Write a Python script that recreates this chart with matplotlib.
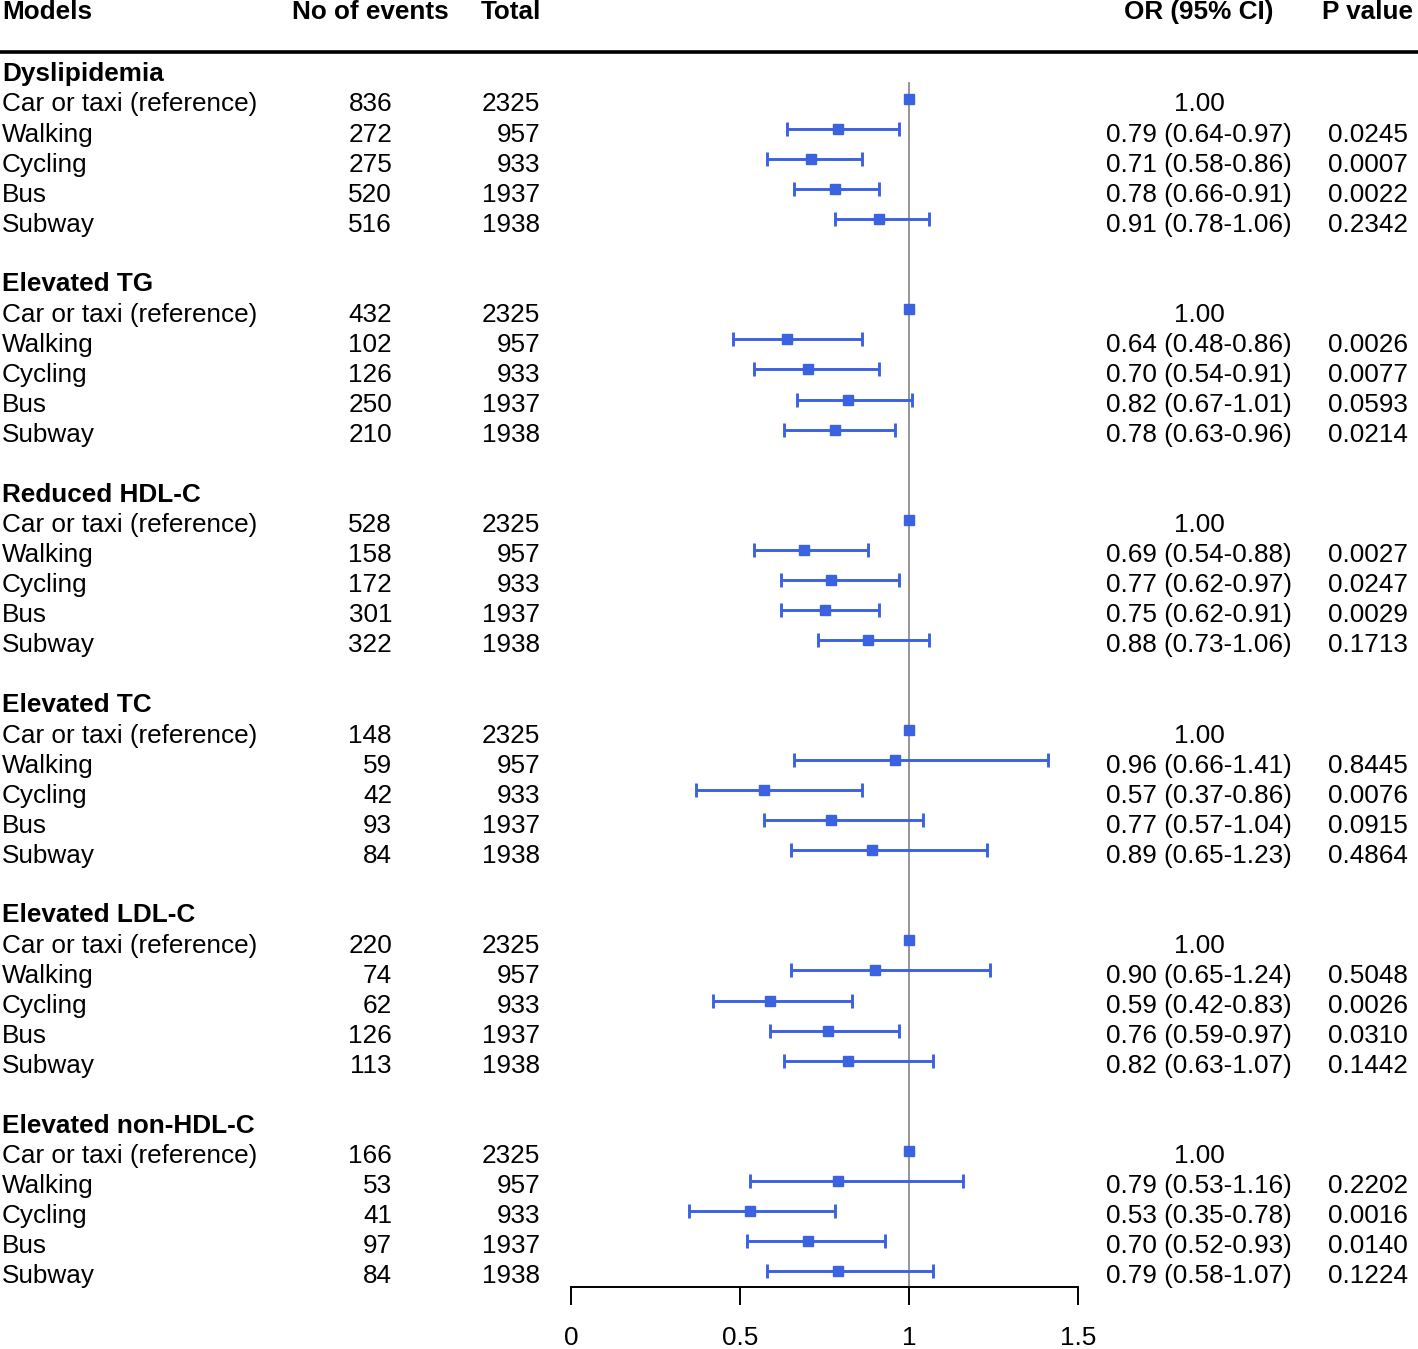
import matplotlib
matplotlib.use("Agg")
import matplotlib.pyplot as plt
from matplotlib.transforms import blended_transform_factory
from matplotlib.lines import Line2D

plt.rcParams['font.family'] = ['Liberation Sans', 'DejaVu Sans']

# data
outcomes = ["Dyslipidemia", "Elevated TG", "Reduced HDL-C",
            "Elevated TC", "Elevated LDL-C", "Elevated non-HDL-C"]
modes = ["Car or taxi (reference)", "Walking", "Cycling", "Bus", "Subway"]
totals = [2325, 957, 933, 1937, 1938]

events = [
    [836, 272, 275, 520, 516],
    [432, 102, 126, 250, 210],
    [528, 158, 172, 301, 322],
    [148, 59, 42, 93, 84],
    [220, 74, 62, 126, 113],
    [166, 53, 41, 97, 84],
]
odds = [
    [1.00, 0.79, 0.71, 0.78, 0.91],
    [1.00, 0.64, 0.70, 0.82, 0.78],
    [1.00, 0.69, 0.77, 0.75, 0.88],
    [1.00, 0.96, 0.57, 0.77, 0.89],
    [1.00, 0.90, 0.59, 0.76, 0.82],
    [1.00, 0.79, 0.53, 0.70, 0.79],
]
ci_low = [
    [None, 0.64, 0.58, 0.66, 0.78],
    [None, 0.48, 0.54, 0.67, 0.63],
    [None, 0.54, 0.62, 0.62, 0.73],
    [None, 0.66, 0.37, 0.57, 0.65],
    [None, 0.65, 0.42, 0.59, 0.63],
    [None, 0.53, 0.35, 0.52, 0.58],
]
ci_high = [
    [None, 0.97, 0.86, 0.91, 1.06],
    [None, 0.86, 0.91, 1.01, 0.96],
    [None, 0.88, 0.97, 0.91, 1.06],
    [None, 1.41, 0.86, 1.04, 1.23],
    [None, 1.24, 0.83, 0.97, 1.07],
    [None, 1.16, 0.78, 0.93, 1.07],
]
pvals = [
    ["", "0.0245", "0.0007", "0.0022", "0.2342"],
    ["", "0.0026", "0.0077", "0.0593", "0.0214"],
    ["", "0.0027", "0.0247", "0.0029", "0.1713"],
    ["", "0.8445", "0.0076", "0.0915", "0.4864"],
    ["", "0.5048", "0.0026", "0.0310", "0.1442"],
    ["", "0.2202", "0.0016", "0.0140", "0.1224"],
]
xticks = [0, 0.5, 1, 1.5]

W, H = 1418, 1349
fig = plt.figure(figsize=(W / 100, H / 100), dpi=100)

# row units: group header at row 0, one row = ~30 px
row_px = 30.05
y0_px = 72
axis_px = 1287
ax = fig.add_axes([571 / W, (H - axis_px) / H, (1078 - 571) / W, axis_px / H])
ax.set_xlim(0, 1.5)
ax.set_ylim((axis_px - y0_px) / row_px, -y0_px / row_px)

blue = '#3b62e0'
fs = 18.8
tr = blended_transform_factory(fig.transFigure, ax.transData)

# header
hy = (12 - y0_px) / row_px
ax.text(2 / W, hy, "Models", transform=tr, fontsize=fs, fontweight='bold', ha='left', va='center')
ax.text(370 / W, hy, "No of events", transform=tr, fontsize=fs, fontweight='bold', ha='center', va='center')
ax.text(511 / W, hy, "Total", transform=tr, fontsize=fs, fontweight='bold', ha='center', va='center')
ax.text(1199 / W, hy, "OR (95% CI)", transform=tr, fontsize=fs, fontweight='bold', ha='center', va='center')
ax.text(1413 / W, hy, "P value", transform=tr, fontsize=fs, fontweight='bold', ha='right', va='center')
fig.add_artist(Line2D([0, 1], [(52 - y0_px) / row_px] * 2, transform=tr, color='black', lw=2.6))

# reference line at OR = 1
ax.axvline(1, ymin=0, ymax=1 - (83 / axis_px), color='#8c8c8c', lw=1.3, zorder=1)

for g, name in enumerate(outcomes):
    base = 7 * g
    ax.text(2 / W, base + 0.06, name, transform=tr, fontsize=fs, fontweight='bold', ha='left', va='center')
    for i, mode in enumerate(modes):
        r = base + i + 1
        ty = r + 0.08
        ax.text(2 / W, ty, mode, transform=tr, fontsize=fs, ha='left', va='center')
        ax.text(392 / W, ty, str(events[g][i]), transform=tr, fontsize=fs, ha='right', va='center')
        ax.text(540 / W, ty, str(totals[i]), transform=tr, fontsize=fs, ha='right', va='center')
        if ci_low[g][i] is None:
            or_txt = f"{odds[g][i]:.2f}"
            ax.plot(odds[g][i], r - 0.1, marker='s', ms=6.5, color=blue, zorder=3)
        else:
            or_txt = f"{odds[g][i]:.2f} ({ci_low[g][i]:.2f}-{ci_high[g][i]:.2f})"
            ax.errorbar(odds[g][i], r - 0.1,
                        xerr=[[odds[g][i] - ci_low[g][i]], [ci_high[g][i] - odds[g][i]]],
                        fmt='s', ms=6.5, color=blue, ecolor=blue, elinewidth=2.1,
                        capsize=5.3, capthick=2.1, zorder=3)
        ax.text(1199 / W, ty, or_txt, transform=tr, fontsize=fs, ha='center', va='center')
        ax.text(1408 / W, ty, pvals[g][i], transform=tr, fontsize=fs, ha='right', va='center')

for s in ['top', 'left', 'right']:
    ax.spines[s].set_visible(False)
ax.spines['bottom'].set_linewidth(1.4)
ax.set_yticks([])
ax.set_xticks(xticks)
ax.set_xticklabels(["0", "0.5", "1", "1.5"])
ax.tick_params(axis='x', length=13, width=1.4, pad=15, labelsize=fs)
ax.patch.set_visible(False)

fig.savefig("out.png", dpi=100)
